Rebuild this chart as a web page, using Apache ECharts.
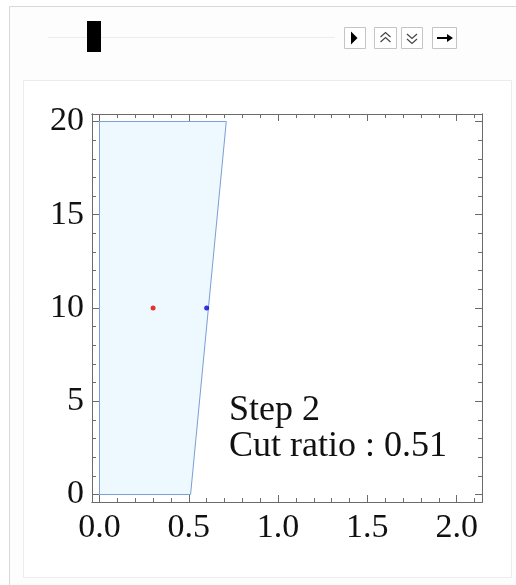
<!DOCTYPE html>
<html>
<head>
<meta charset="utf-8">
<script src="https://cdn.jsdelivr.net/npm/echarts@6/dist/echarts.min.js"></script>
<style>
  html, body { margin: 0; padding: 0; background: #fff; }
  #chart { width: 516px; height: 585px; }
</style>
</head>
<body>
<div id="chart"></div>
<script>
// polygon after step 2 (x = width, y = height)
const polyX = [0, 0.51, 0.71, 0];
const polyY = [0, 0, 20, 20];
// red = centroid-ish point, blue = cut point
const redPoint = [0.3, 10];
const bluePoint = [0.6, 10];

const xMajorTicks = [0, 0.5, 1, 1.5, 2];
const xMinorTicks = [0.1, 0.2, 0.3, 0.4, 0.6, 0.7, 0.8, 0.9, 1.1, 1.2, 1.3, 1.4, 1.6, 1.7, 1.8, 1.9, 2.1];
const yMajorTicks = [0, 5, 10, 15, 20];
const yMinorTicks = [1, 2, 3, 4, 6, 7, 8, 9, 11, 12, 13, 14, 16, 17, 18, 19];
const xLabels = ["0.0", "0.5", "1.0", "1.5", "2.0"];
const yLabels = ["0", "5", "10", "15", "20"];

const stepText = "Step 2";
const ratioText = "Cut ratio : 0.51";

const serif = "Liberation Serif";
const axisColor = "#6b6b6b";

function makeAxis(pos, dim, ticks, len, labels) {
  const isX = dim === "x";
  return {
    type: "value",
    position: pos,
    min: isX ? -0.042 : -0.4,
    max: isX ? 2.142 : 20.4,
    splitLine: { show: false },
    axisLine: { show: true, onZero: false, lineStyle: { color: axisColor, width: 1 } },
    axisTick: {
      show: true,
      inside: true,
      length: len,
      customValues: ticks,
      lineStyle: { color: axisColor, width: 1 },
    },
    axisLabel: labels
      ? {
          show: true,
          customValues: ticks,
          formatter: (v) => labels[ticks.indexOf(v)] ?? "",
          fontFamily: serif,
          fontSize: 34,
          color: "#111",
          margin: isX ? 9 : 8,
        }
      : { show: false },
  };
}

const chart = echarts.init(document.getElementById("chart"));

chart.setOption({
  backgroundColor: "#ffffff",
  animation: false,
  grid: { left: 92, right: 34, top: 114, bottom: 83, containLabel: false },
  xAxis: [
    makeAxis("bottom", "x", xMajorTicks, 7, xLabels),
    makeAxis("bottom", "x", xMinorTicks, 4),
    makeAxis("top", "x", xMajorTicks, 7),
    makeAxis("top", "x", xMinorTicks, 4),
  ],
  yAxis: [
    makeAxis("left", "y", yMajorTicks, 7, yLabels),
    makeAxis("left", "y", yMinorTicks, 4),
    makeAxis("right", "y", yMajorTicks, 7),
    makeAxis("right", "y", yMinorTicks, 4),
  ],
  graphic: [
    // outer panel
    {
      type: "rect",
      z: -10,
      shape: { x: 9.5, y: 6.5, width: 600, height: 700 },
      style: { fill: "#fdfdfd", stroke: "#d8d8d8", lineWidth: 1 },
    },
    // inner panel
    {
      type: "rect",
      z: -9,
      shape: { x: 23.5, y: 80.5, width: 488, height: 497 },
      style: { fill: "#ffffff", stroke: "#ececec", lineWidth: 1 },
    },
    // slider track
    {
      type: "line",
      shape: { x1: 48, y1: 37.5, x2: 335, y2: 37.5 },
      style: { stroke: "#e6efe9", lineWidth: 1 },
    },
    // slider thumb
    {
      type: "rect",
      shape: { x: 87, y: 21, width: 14, height: 31 },
      style: { fill: "#000" },
    },
    // buttons
    {
      type: "rect",
      shape: { x: 344.5, y: 27.5, width: 21, height: 21 },
      style: { fill: "#fff", stroke: "#c4c4c4", lineWidth: 1 },
    },
    {
      type: "polygon",
      shape: { points: [[351, 31.5], [357.5, 38], [351, 44.5]] },
      style: { fill: "#000" },
    },
    {
      type: "rect",
      shape: { x: 374.5, y: 27.5, width: 22, height: 21 },
      style: { fill: "#fff", stroke: "#c4c4c4", lineWidth: 1 },
    },
    {
      type: "polyline",
      shape: { points: [[380.5, 37], [385.5, 32.5], [390.5, 37]] },
      style: { stroke: "#444", lineWidth: 1.2, fill: null },
    },
    {
      type: "polyline",
      shape: { points: [[380.5, 42], [385.5, 37.5], [390.5, 42]] },
      style: { stroke: "#444", lineWidth: 1.2, fill: null },
    },
    {
      type: "rect",
      shape: { x: 401.5, y: 27.5, width: 21, height: 21 },
      style: { fill: "#fff", stroke: "#c4c4c4", lineWidth: 1 },
    },
    {
      type: "polyline",
      shape: { points: [[407, 34], [412, 38.5], [417, 34]] },
      style: { stroke: "#444", lineWidth: 1.2, fill: null },
    },
    {
      type: "polyline",
      shape: { points: [[407, 39], [412, 43.5], [417, 39]] },
      style: { stroke: "#444", lineWidth: 1.2, fill: null },
    },
    {
      type: "rect",
      shape: { x: 432.5, y: 27.5, width: 24, height: 21 },
      style: { fill: "#fff", stroke: "#c4c4c4", lineWidth: 1 },
    },
    {
      type: "line",
      shape: { x1: 437, y1: 38, x2: 449, y2: 38 },
      style: { stroke: "#000", lineWidth: 2 },
    },
    {
      type: "polygon",
      shape: { points: [[447, 34], [453, 38], [447, 42]] },
      style: { fill: "#000" },
    },
    // annotation
    {
      type: "text",
      z: 10,
      x: 229,
      y: 393,
      style: {
        text: stepText + "\n" + ratioText,
        font: "36px " + serif,
        lineHeight: 36,
        fill: "#111",
        textAlign: "left",
        textVerticalAlign: "top",
      },
    },
  ],
  series: [
    {
      type: "custom",
      xAxisIndex: 0,
      yAxisIndex: 0,
      data: polyX.map((x, i) => [x, polyY[i]]),
      renderItem: (params, api) => {
        if (params.dataIndex !== 0) return null;
        const pts = polyX.map((x, i) => api.coord([x, polyY[i]]));
        return {
          type: "polygon",
          shape: { points: pts },
          style: { fill: "#edf8ff", stroke: "#7a9ed6", lineWidth: 1 },
        };
      },
      silent: true,
    },
    {
      type: "scatter",
      data: [redPoint],
      symbol: "circle",
      symbolSize: 5,
      itemStyle: { color: "#e00000" },
      z: 5,
    },
    {
      type: "scatter",
      data: [bluePoint],
      symbol: "circle",
      symbolSize: 5,
      itemStyle: { color: "#0000dd" },
      z: 5,
    },
  ],
});
</script>
</body>
</html>
